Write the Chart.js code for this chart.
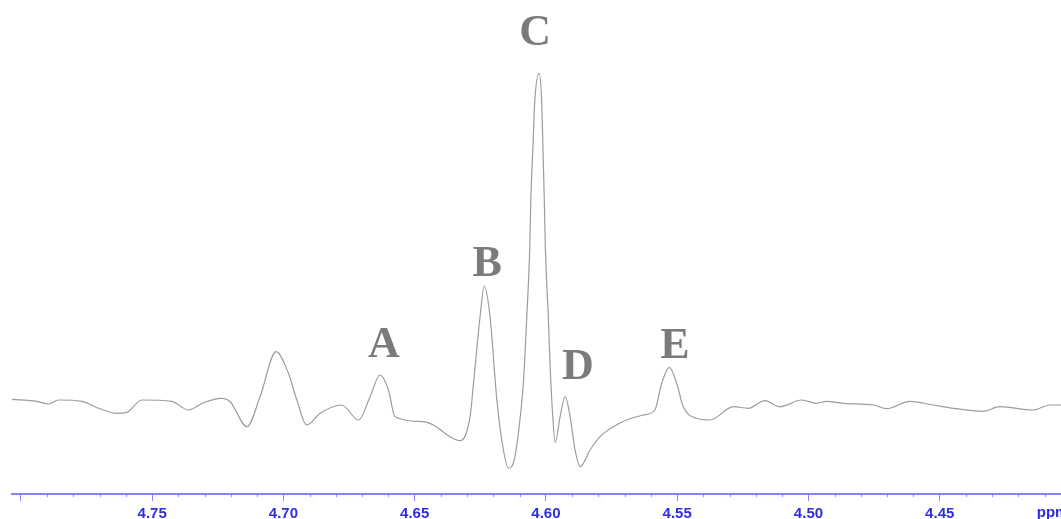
<!DOCTYPE html>
<html>
<head>
<meta charset="utf-8">
<script src="https://cdn.jsdelivr.net/npm/chart.js@4/dist/chart.umd.min.js"></script>
<style>
  html, body { margin: 0; padding: 0; background: #fff; }
  #wrap { width: 1061px; height: 519px; }
</style>
</head>
<body>
<div id="wrap"><canvas id="spectrum"></canvas></div>
<script>
// --- data (ppm vs. arbitrary intensity) ---
const shifts = [
  4.8034, 4.7939, 4.7895, 4.7857, 4.7768, 4.7704, 4.7634, 4.7599, 4.7539, 4.7425,
  4.7362, 4.7305, 4.7235, 4.7203, 4.7139, 4.7089, 4.7028, 4.6981, 4.6949, 4.6911,
  4.6860, 4.6778, 4.6714, 4.6670, 4.6632, 4.6600, 4.6575, 4.6467, 4.6429, 4.6365,
  4.6327, 4.6289, 4.6276, 4.6251, 4.6235, 4.6213, 4.6187, 4.6162, 4.6143, 4.6124,
  4.6105, 4.6086, 4.6073, 4.6062, 4.6058, 4.6049, 4.6043, 4.6026, 4.6016, 4.6012,
  4.6006, 4.6002, 4.5991, 4.5984, 4.5974, 4.5965, 4.5946, 4.5927, 4.5908, 4.5889,
  4.5870, 4.5832, 4.5794, 4.5718, 4.5629, 4.5585, 4.5559, 4.5530, 4.5502, 4.5477,
  4.5426, 4.5375, 4.5286, 4.5229, 4.5166, 4.5109, 4.5026, 4.4969, 4.4931, 4.4868,
  4.4753, 4.4702, 4.4614, 4.4525, 4.4436, 4.4334, 4.4271, 4.4144, 4.4080, 4.4038
];
const intensities = [
  94.7, 92.7, 90.0, 94.0, 92.7, 85.7, 80.7, 81.3, 94.0, 92.7,
  84.0, 91.3, 95.7, 92.3, 67.3, 97.3, 142.3, 120.7, 94.0, 69.0,
  80.7, 89.0, 74.0, 97.3, 119.0, 104.0, 77.3, 72.3, 69.0, 57.3,
  53.3, 77.3, 110.7, 177.3, 208.0, 177.3, 94.0, 44.0, 26.0, 31.0,
  61.0, 111.0, 177.3, 244.0, 291.0, 351.0, 391.0, 420.7, 391.0, 351.0,
  291.0, 244.0, 177.3, 127.3, 77.3, 51.3, 77.3, 97.3, 77.3, 44.0,
  27.3, 44.0, 57.3, 71.0, 79.0, 84.0, 110.7, 126.7, 110.7, 87.3,
  75.7, 74.0, 87.3, 85.7, 93.3, 87.3, 94.0, 90.7, 92.7, 90.7,
  89.0, 85.3, 92.7, 89.0, 85.3, 82.7, 87.3, 84.0, 89.0, 89.0
];

// peak letters and where they sit (baseline of the letter)
const peakNames = ['A', 'B', 'C', 'D', 'E'];
const peakShifts = [4.6617, 4.6224, 4.6041, 4.5878, 4.5509];
const peakLabelLevels = [137, 218, 449, 115, 136];

// axis ticks
const majorTicks = [4.80, 4.75, 4.70, 4.65, 4.60, 4.55, 4.50, 4.45];
const majorLabels = ['', '4.75', '4.70', '4.65', '4.60', '4.55', '4.50', '4.45'];
const unitLabel = 'ppm';
const unitAt = 4.41;

const AXIS_BLUE = '#8484f8';
const LABEL_BLUE = '#2f2fe0';
const TICK_FONT = 'bold 15px "Liberation Sans", Arial, sans-serif';

const isMajor = v => majorTicks.some(m => Math.abs(m - v) < 1e-6);

// --- plugin: minor ticks, unit label, peak letters ---
const extrasPlugin = {
  id: 'extras',
  afterDraw(chart) {
    const { ctx, scales: { x, y } } = chart;
    const bottom = chart.chartArea.bottom;

    ctx.save();
    ctx.strokeStyle = AXIS_BLUE;
    ctx.lineWidth = 1;
    x.ticks.forEach(t => {
      if (isMajor(t.value)) return;
      const px = Math.round(x.getPixelForValue(t.value)) + 0.5;
      ctx.beginPath();
      ctx.moveTo(px, bottom);
      ctx.lineTo(px, bottom + 3);
      ctx.stroke();
    });

    // unit label, allowed to run off the right edge like the original
    ctx.fillStyle = LABEL_BLUE;
    ctx.font = TICK_FONT;
    ctx.textAlign = 'left';
    ctx.textBaseline = 'middle';
    ctx.fillText(unitLabel, x.getPixelForValue(unitAt) - 8, bottom + 19);

    ctx.fillStyle = '#7b7b7b';
    ctx.font = 'bold 44px "Liberation Serif", "DejaVu Serif", serif';
    ctx.textAlign = 'center';
    ctx.textBaseline = 'alphabetic';
    peakNames.forEach((name, i) => {
      ctx.fillText(name, x.getPixelForValue(peakShifts[i]), y.getPixelForValue(peakLabelLevels[i]));
    });
    ctx.restore();
  }
};

new Chart(document.getElementById('spectrum').getContext('2d'), {
  type: 'line',
  data: {
    datasets: [{
      data: shifts.map((s, i) => ({ x: s, y: intensities[i] })),
      borderColor: '#9c9c9c',
      borderWidth: 1.2,
      pointRadius: 0,
      cubicInterpolationMode: 'monotone',
      fill: false
    }]
  },
  options: {
    responsive: true,
    maintainAspectRatio: false,
    animation: false,
    layout: { padding: { left: 12, right: 0, top: 0, bottom: 0 } },
    plugins: {
      legend: { display: false },
      tooltip: { enabled: false }
    },
    scales: {
      x: {
        type: 'linear',
        reverse: true,
        min: 4.4038,
        max: 4.8034,
        border: { display: true, color: AXIS_BLUE, width: 2 },
        grid: {
          drawOnChartArea: false,
          tickLength: 7,
          tickWidth: 1,
          tickColor: c => (c.tick && isMajor(c.tick.value)) ? AXIS_BLUE : 'rgba(0,0,0,0)'
        },
        ticks: {
          autoSkip: false,
          maxRotation: 0,
          minRotation: 0,
          padding: 4,
          color: LABEL_BLUE,
          font: { family: '"Liberation Sans", Arial, sans-serif', size: 15, weight: 'bold' },
          callback: value => {
            const idx = majorTicks.findIndex(m => Math.abs(m - value) < 1e-6);
            return idx >= 0 ? majorLabels[idx] : '';
          }
        },
        afterBuildTicks: scale => {
          const ticks = [];
          for (let i = 480; i >= 441; i--) ticks.push({ value: i / 100 });
          scale.ticks = ticks;
        },
        afterFit: scale => { scale.height = 25; }
      },
      y: {
        display: false,
        min: 0,
        max: 494
      }
    }
  },
  plugins: [extrasPlugin]
});
</script>
</body>
</html>
